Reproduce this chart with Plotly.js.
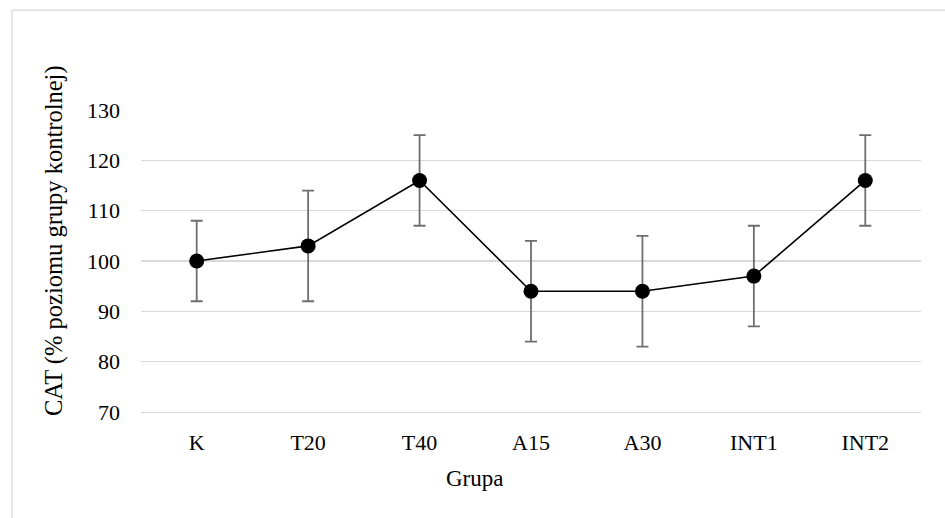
<!DOCTYPE html>
<html>
<head>
<meta charset="utf-8">
<script src="https://cdn.plot.ly/plotly-3.0.1.min.js"></script>
<style>
  html, body { margin: 0; padding: 0; background: #ffffff; }
  #chart { width: 945px; height: 518px; }
</style>
</head>
<body>
<div id="chart"></div>
<script>
const groups = ["K", "T20", "T40", "A15", "A30", "INT1", "INT2"];
const means = [100, 103, 116, 94, 94, 97, 116];
const errPlus = [8, 11, 9, 10, 11, 10, 9];
const errMinus = [8, 11, 9, 10, 11, 10, 9];
const yTicks = [70, 80, 90, 100, 110, 120, 130];
const xTitle = "Grupa";
const yTitle = "CAT (% poziomu grupy kontrolnej)";

const font = "Liberation Serif";

const trace = {
  type: "scatter",
  mode: "lines+markers",
  x: groups,
  y: means,
  line: { color: "#000000", width: 1.6 },
  marker: { color: "#000000", size: 15 },
  error_y: {
    type: "data",
    symmetric: false,
    array: errPlus,
    arrayminus: errMinus,
    color: "#6e6e6e",
    thickness: 1.8,
    width: 6
  },
  hoverinfo: "x+y"
};

const layout = {
  width: 945,
  height: 518,
  margin: { l: 141, r: 24, t: 110, b: 106 },
  paper_bgcolor: "#ffffff",
  plot_bgcolor: "#ffffff",
  showlegend: false,
  font: { family: font, color: "#000000", size: 22 },
  xaxis: {
    type: "category",
    range: [-0.5, 6.5],
    showgrid: false,
    showline: true,
    linecolor: "#d9d9d9",
    linewidth: 1.3,
    zeroline: false,
    ticks: "",
    ticklabelstandoff: 10,
    tickfont: { family: font, size: 22, color: "#000000" }
  },
  yaxis: {
    range: [70, 130],
    tickvals: yTicks,
    ticktext: yTicks.map(String),
    showgrid: true,
    gridcolor: "#d9d9d9",
    gridwidth: 1.3,
    zeroline: false,
    showline: false,
    ticks: "",
    ticklabelstandoff: 20,
    tickfont: { family: font, size: 22, color: "#000000" }
  },
  annotations: [
    { text: xTitle, xref: "paper", yref: "paper", x: 0.427, y: -0.22, xanchor: "center", yanchor: "middle", showarrow: false, font: { family: font, size: 23, color: "#000000" } },
    { text: yTitle, xref: "paper", yref: "paper", x: -0.1115, y: 0.566, xanchor: "center", yanchor: "middle", textangle: -90, showarrow: false, font: { family: font, size: 24.5, color: "#000000" } }
  ],
  shapes: [
    { type: "line", xref: "paper", yref: "paper", x0: -0.1654, x1: 1.06, y0: 1.331, y1: 1.331, line: { color: "#d9d9d9", width: 1.3 } },
    { type: "line", xref: "paper", yref: "paper", x0: -0.1654, x1: -0.1654, y0: 1.331, y1: -0.4, line: { color: "#d9d9d9", width: 1.3 } }
  ]
};

Plotly.newPlot("chart", [trace], layout, { displayModeBar: false, staticPlot: true });
</script>
</body>
</html>
